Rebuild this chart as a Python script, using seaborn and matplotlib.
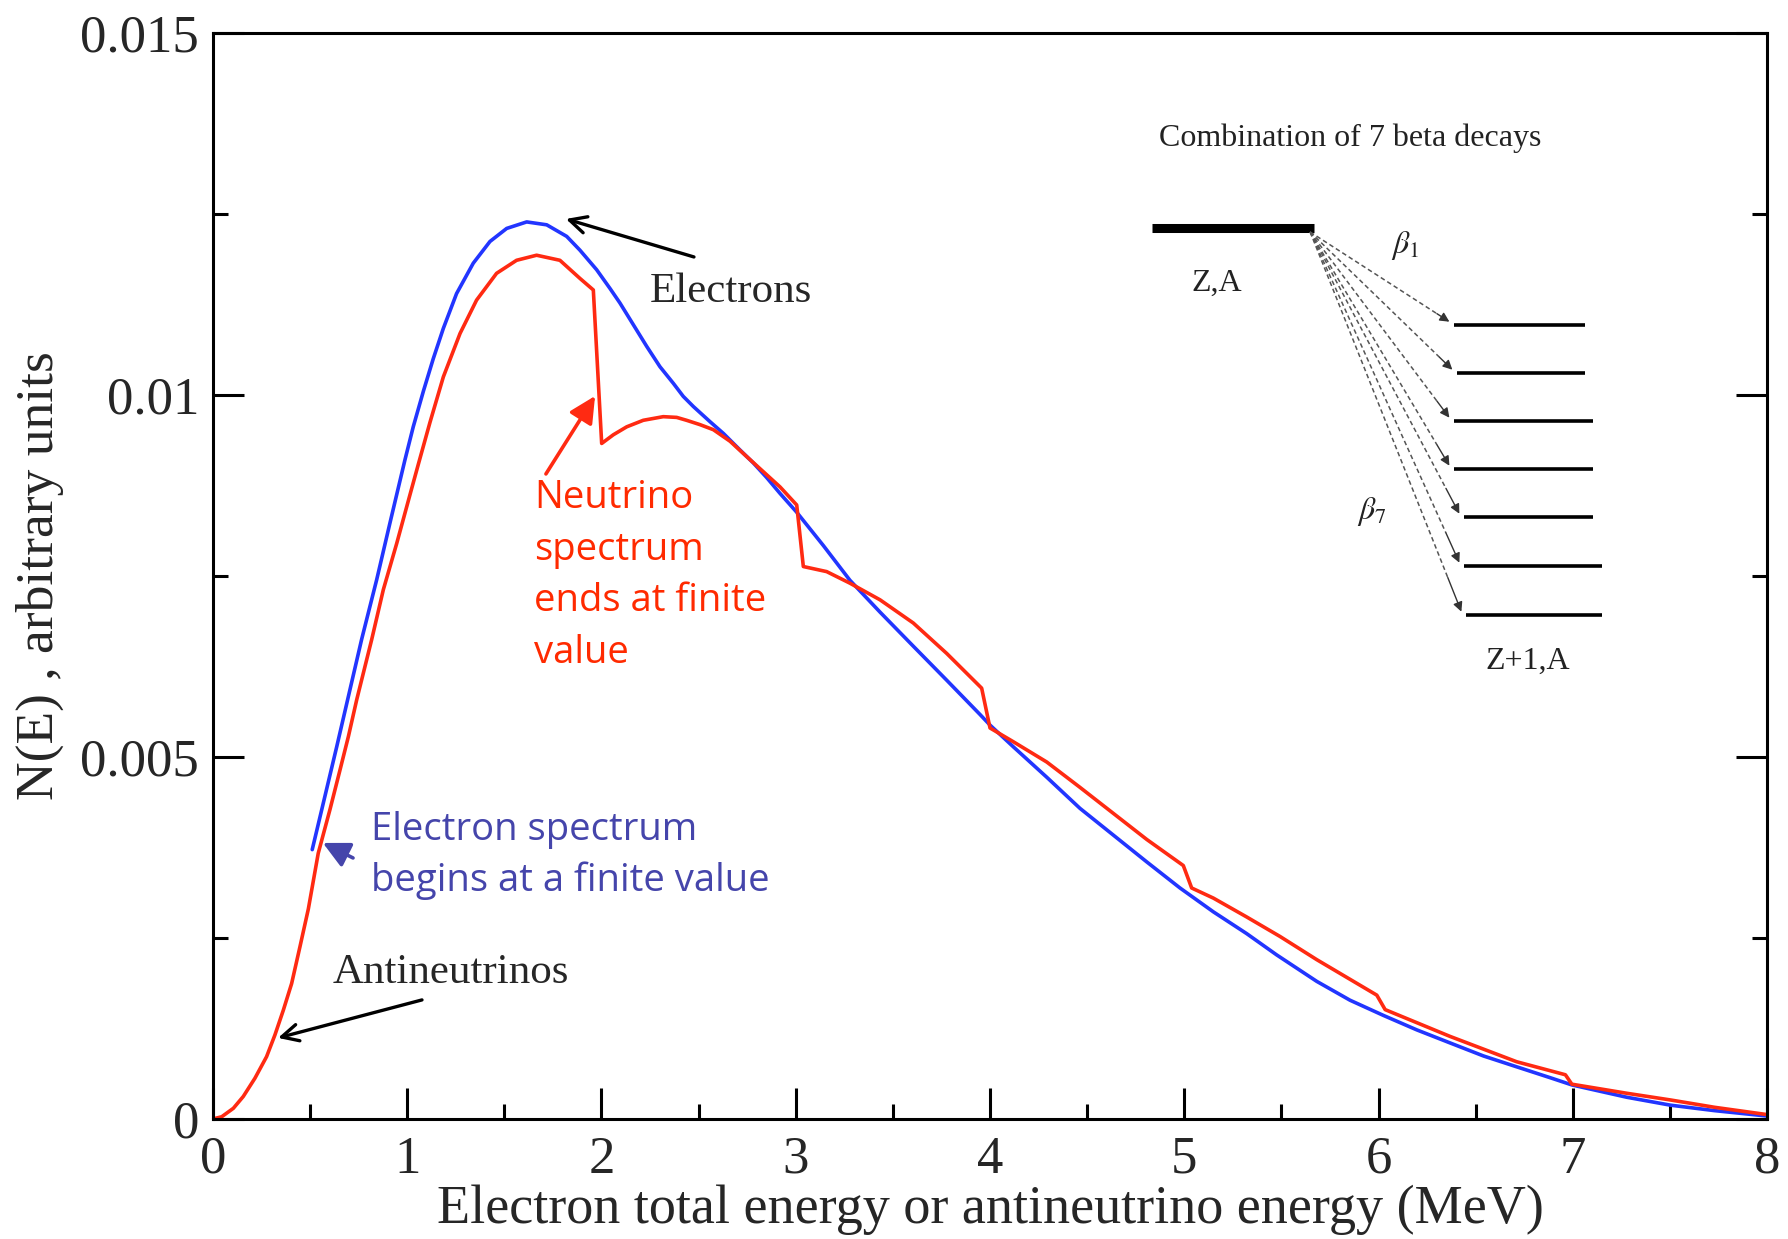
import matplotlib
matplotlib.use("Agg")
import matplotlib.pyplot as plt
import matplotlib.ticker as mticker
import numpy as np
import pandas as pd
import seaborn as sns

# Summed electron spectrum (total energy, MeV) for 7 beta branches
electron_energy = [0.511, 0.637, 0.765, 0.843, 0.911, 0.988, 1.031, 1.083, 1.134, 1.186,
                   1.254, 1.340, 1.426, 1.512, 1.615, 1.718, 1.821, 1.889, 1.975, 2.044,
                   2.095, 2.164, 2.233, 2.301, 2.370, 2.421, 2.473, 2.559, 2.627, 2.713,
                   2.782, 2.850, 2.919, 3.005, 3.142, 3.279, 3.434, 3.605, 3.777, 3.949,
                   4.000, 4.120, 4.292, 4.463, 4.635, 4.807, 4.978, 5.150, 5.321, 5.476,
                   5.682, 5.853, 6.025, 6.197, 6.368, 6.540, 6.711, 6.883, 6.995, 7.277,
                   7.503, 7.729, 8.000]
electron_counts = [3.72, 5.14, 6.62, 7.45, 8.23, 9.10, 9.56, 10.05, 10.50, 10.92,
                   11.40, 11.82, 12.12, 12.30, 12.39, 12.35, 12.19, 12.00, 11.73, 11.47,
                   11.27, 10.97, 10.67, 10.39, 10.16, 9.98, 9.84, 9.63, 9.47, 9.24,
                   9.06, 8.86, 8.64, 8.38, 7.92, 7.44, 7.00, 6.53, 6.06, 5.585,
                   5.44, 5.14, 4.72, 4.29, 3.92, 3.55, 3.19, 2.86, 2.56, 2.265,
                   1.90, 1.64, 1.43, 1.23, 1.05, 0.87, 0.72, 0.57, 0.47, 0.30,
                   0.19, 0.115, 0.04]

# Summed antineutrino spectrum, with a step at each branch end point
antinu_energy = [0.0, 0.045, 0.105, 0.156, 0.216, 0.276, 0.319, 0.362, 0.405, 0.448,
                 0.491, 0.542, 0.602, 0.654, 0.697, 0.740, 0.791, 0.817, 0.877, 0.946,
                 1.014, 1.058, 1.117, 1.186, 1.272, 1.357, 1.460, 1.563, 1.666, 1.786,
                 1.889, 1.958, 2.001, 2.061, 2.130, 2.215, 2.318, 2.387, 2.438, 2.507,
                 2.576, 2.662, 2.747, 2.833, 2.919, 3.005, 3.039, 3.159, 3.279, 3.434,
                 3.605, 3.777, 3.957, 4.000, 4.120, 4.292, 4.463, 4.635, 4.807, 4.995,
                 5.038, 5.150, 5.321, 5.493, 5.682, 5.991, 6.034, 6.368, 6.711, 6.962,
                 6.995, 7.277, 7.503, 7.729, 8.000]
antinu_counts = [0.0, 0.03, 0.147, 0.31, 0.562, 0.86, 1.16, 1.50, 1.87, 2.38,
                 2.90, 3.67, 4.27, 4.82, 5.28, 5.79, 6.34, 6.62, 7.31, 7.95,
                 8.62, 9.05, 9.62, 10.25, 10.85, 11.31, 11.68, 11.86, 11.93, 11.86,
                 11.61, 11.45, 9.33, 9.45, 9.56, 9.65, 9.70, 9.69, 9.65, 9.59,
                 9.52, 9.36, 9.15, 8.94, 8.73, 8.48, 7.63, 7.56, 7.40, 7.17,
                 6.85, 6.43, 5.95, 5.40, 5.21, 4.93, 4.58, 4.22, 3.86, 3.50,
                 3.19, 3.05, 2.79, 2.52, 2.20, 1.71, 1.51, 1.14, 0.79, 0.61,
                 0.48, 0.355, 0.262, 0.161, 0.06]
count_scale = 1e-3

x_ticks = [0, 1, 2, 3, 4, 5, 6, 7, 8]
y_ticks = [0.0, 0.005, 0.01, 0.015]
y_tick_labels = ["0", "0.005", "0.01", "0.015"]

sns.set_theme(style="ticks")
plt.rcParams["font.family"] = ["Liberation Serif", "DejaVu Serif"]
plt.rcParams["mathtext.fontset"] = "stix"

SERIF = ["Liberation Serif", "DejaVu Serif"]
HAND = ["Open Sans", "DejaVu Sans"]
BLUE = "#2235ff"
RED = "#ff2a12"
BLUE_TXT = "#4545ab"
RED_TXT = "#ff2a00"

fig = plt.figure(figsize=(17.88, 12.39), dpi=100)
ax = fig.add_axes([0.1191, 0.0969, 0.8692, 0.8765])

df_e = pd.DataFrame({"E": electron_energy,
                     "N": np.array(electron_counts) * count_scale})
df_nu = pd.DataFrame({"E": antinu_energy,
                      "N": np.array(antinu_counts) * count_scale})

sns.lineplot(data=df_e, x="E", y="N", ax=ax, color=BLUE, lw=2.6,
             estimator=None, sort=False)
sns.lineplot(data=df_nu, x="E", y="N", ax=ax, color=RED, lw=2.6,
             estimator=None, sort=False)
for ln in ax.get_lines():
    ln.set_solid_joinstyle("round")

ax.set_xlim(0, 8)
ax.set_ylim(0, 0.015)
ax.set_xticks(x_ticks)
ax.set_xticklabels([str(t) for t in x_ticks])
ax.set_yticks(y_ticks)
ax.set_yticklabels(y_tick_labels)
ax.xaxis.set_minor_locator(mticker.MultipleLocator(0.5))
ax.yaxis.set_minor_locator(mticker.MultipleLocator(0.0025))
ax.tick_params(which="both", direction="in", top=False, right=True,
               width=2.2, color="black")
ax.tick_params(which="major", length=22)
ax.tick_params(which="minor", length=11)
ax.tick_params(axis="x", which="major", pad=12, labelsize=38)
ax.tick_params(axis="y", which="major", pad=10, labelsize=38)
for lab in ax.get_xticklabels() + ax.get_yticklabels():
    lab.set_fontfamily(SERIF)
for sp in ax.spines.values():
    sp.set_linewidth(2.2)
    sp.set_color("black")

ax.set_xlabel("Electron total energy or antineutrino energy (MeV)",
              fontsize=39, family=SERIF, labelpad=1)
ax.set_ylabel("N(E) , arbitrary units", fontsize=38.5, family=SERIF, labelpad=12)

# Curve annotations
ax.annotate("", xy=(1.817, 0.012431), xytext=(2.476, 0.011906),
            arrowprops=dict(arrowstyle="->", color="black", lw=2.4,
                            mutation_scale=30, shrinkA=0, shrinkB=0))
ax.text(2.25, 0.011423, "Electrons", fontsize=31, family=SERIF,
        ha="left", va="center")

ax.annotate("", xy=(0.335, 0.001119), xytext=(1.076, 0.001644),
            arrowprops=dict(arrowstyle="->", color="black", lw=2.4,
                            mutation_scale=30, shrinkA=0, shrinkB=0))
ax.text(0.618, 0.002017, "Antineutrinos", fontsize=31, family=SERIF,
        ha="left", va="center")

ax.annotate("", xy=(1.967, 0.009986), xytext=(1.714, 0.008909),
            arrowprops=dict(arrowstyle="-|>", color=RED, lw=2.6,
                            mutation_scale=40, shrinkA=0, shrinkB=0))
nu_lines = ["Neutrino", "spectrum", "ends at finite", "value"]
nu_line_y = [0.008577, 0.007859, 0.007155, 0.006436]
for s, yy in zip(nu_lines, nu_line_y):
    ax.text(1.653, yy, s, fontsize=27.5, family=HAND, color=RED_TXT,
            ha="left", va="center")

ax.annotate("", xy=(0.566, 0.003812), xytext=(0.721, 0.003605),
            arrowprops=dict(arrowstyle="-|>", color=BLUE_TXT, lw=2.6,
                            mutation_scale=40, shrinkA=0, shrinkB=0))
el_lines = ["Electron spectrum", "begins at a finite value"]
el_line_y = [0.003992, 0.003287]
for s, yy in zip(el_lines, el_line_y):
    ax.text(0.813, yy, s, fontsize=27.5, family=HAND, color=BLUE_TXT,
            ha="left", va="center")

# Level scheme of the 7 branches (axes-fraction coordinates)
T = ax.transAxes
ax.text(0.7317, 0.9033, "Combination of 7 beta decays", transform=T,
        fontsize=23, family=SERIF, ha="center", va="center", color="#222222")
ax.plot([0.6042, 0.7085], [0.8204, 0.8204], transform=T, color="black",
        lw=6.5, solid_capstyle="butt")
ax.text(0.6461, 0.7698, "Z,A", transform=T, fontsize=23, family=SERIF,
        ha="center", va="center", color="#222222")
ax.text(0.8462, 0.4217, "Z+1,A", transform=T, fontsize=23, family=SERIF,
        ha="center", va="center", color="#222222")
ax.text(0.7671, 0.8039, r"$\beta_1$", transform=T, fontsize=23,
        ha="center", va="center", color="#222222")
ax.text(0.7458, 0.5589, r"$\beta_7$", transform=T, fontsize=23,
        ha="center", va="center", color="#222222")

level_y = [0.7311, 0.6869, 0.6427, 0.5985, 0.5543, 0.5092, 0.4641]
level_x0 = [0.7986, 0.8005, 0.7986, 0.7986, 0.8050, 0.8050, 0.8063]
level_x1 = [0.8829, 0.8829, 0.8880, 0.8880, 0.8880, 0.8938, 0.8938]
start = np.array([0.7060, 0.8167])
for y0, x0, x1 in zip(level_y, level_x0, level_x1):
    ax.plot([x0, x1], [y0, y0], transform=T, color="black", lw=2.6,
            solid_capstyle="butt")
    tip = np.array([x0 - 0.003, y0 + 0.003])
    vec = tip - start
    pre = tip - vec * 0.09
    ax.plot([start[0], pre[0]], [start[1], pre[1]], transform=T,
            color="#555555", lw=1.1, ls=(0, (3, 2)))
    ax.annotate("", xy=tip, xytext=pre, xycoords=T, textcoords=T,
                arrowprops=dict(arrowstyle="-|>", color="#333333", lw=1.0,
                                mutation_scale=14, shrinkA=0, shrinkB=0))

fig.savefig("out.png", dpi=100)
